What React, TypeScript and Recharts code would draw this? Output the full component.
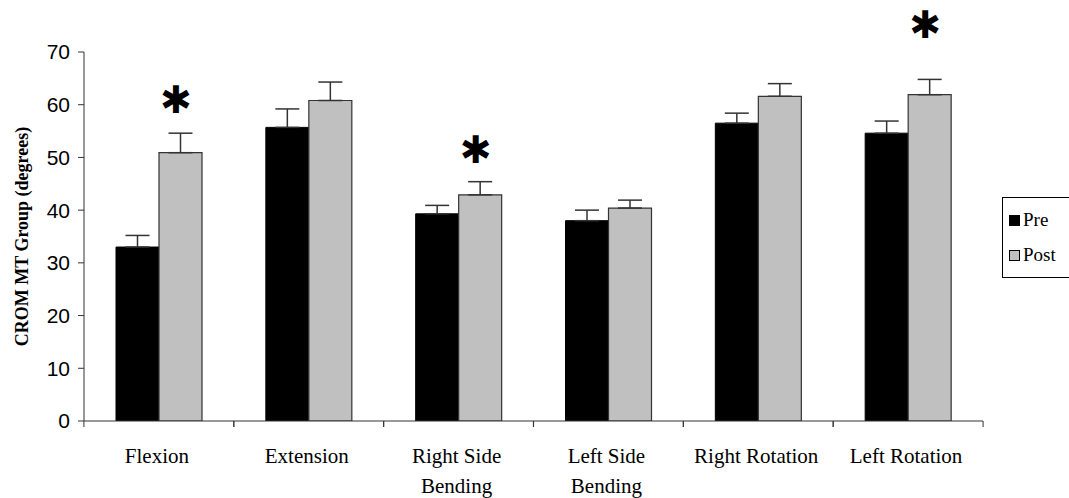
import React from 'react';
import {
  BarChart, Bar, XAxis, YAxis, ErrorBar, ReferenceDot, Label
} from 'recharts';

// 運動方向（改行で2段表示）
const categories = [
  'Flexion',
  'Extension',
  'Right Side\nBending',
  'Left Side\nBending',
  'Right Rotation',
  'Left Rotation',
];
const preValues = [33.0, 55.7, 39.3, 38.0, 56.5, 54.6];
const postValues = [50.9, 60.8, 42.9, 40.4, 61.6, 61.9];
const preErrors = [2.2, 3.5, 1.6, 2.0, 1.9, 2.3];
const postErrors = [3.7, 3.5, 2.5, 1.5, 2.4, 2.9];
// 有意差マーク (*) の高さ（度）
const starLevels: (number | null)[] = [60.9, null, 51.4, null, null, 75.1];
const yTicks = [0, 10, 20, 30, 40, 50, 60, 70];
const legendItems = [
  { label: 'Pre', fill: '#000' },
  { label: 'Post', fill: '#c0c0c0' },
];

const SERIF = '"Liberation Serif", "Times New Roman", serif';
const SANS = '"Liberation Sans", Arial, sans-serif';
const BAND = 150;

if (typeof document !== 'undefined') document.body.style.margin = '0';

const data = categories.map((name, i) => ({
  name,
  pre: preValues[i],
  post: postValues[i],
  preErr: [0, preErrors[i]],
  postErr: [0, postErrors[i]],
}));

const XTick = (props: any) => {
  const { x, y, payload } = props;
  const lines = String(payload.value).split('\n');
  return (
    <g>
      <line x1={x - BAND / 2} x2={x - BAND / 2} y1={y} y2={y + 6} stroke="#333" />
      <line x1={x + BAND / 2} x2={x + BAND / 2} y1={y} y2={y + 6} stroke="#333" />
      {lines.map((l, i) => (
        <text key={i} x={x - 2} y={y + 42 + i * 30} textAnchor="middle"
          fontFamily={SERIF} fontSize={21} fill="#000">{l}</text>
      ))}
    </g>
  );
};

const Star = (props: any) => (
  <text x={props.cx + 17} y={props.cy} textAnchor="middle" dominantBaseline="central"
    fontFamily='"DejaVu Sans", sans-serif' fontWeight="bold" fontSize={38} fill="#000">✱</text>
);

const LegendBox = () => (
  <div style={{
    position: 'absolute', left: 1002, top: 197, width: 80, height: 81, boxSizing: 'border-box',
    border: '1px solid #000', fontFamily: SERIF, fontSize: 19, color: '#000', background: '#fff',
  }}>
    {legendItems.map((e, i) => (
      <div key={e.label} style={{ position: 'absolute', left: 6, top: 11 + i * 35, display: 'flex', alignItems: 'center' }}>
        <span style={{ display: 'inline-block', width: 9, height: 9, background: e.fill, border: '1px solid #000', marginRight: 3 }} />
        <span>{e.label}</span>
      </div>
    ))}
  </div>
);

export default function App() {
  return (
    <div style={{ position: 'relative', width: 1069, height: 498, overflow: 'hidden' }}>
      <BarChart width={1069} height={498} data={data}
        margin={{ top: 52, right: 86, bottom: 47, left: 0 }}
        barGap={0} barCategoryGap={32}>
        <XAxis dataKey="name" height={30} tickLine={false} tickSize={0} tickMargin={0}
          axisLine={{ stroke: '#333' }} tick={<XTick />} interval={0} />
        <YAxis width={84} domain={[0, 70]} ticks={yTicks} allowDataOverflow
          axisLine={{ stroke: '#333' }} tickLine={{ stroke: '#333' }} tickSize={6} tickMargin={8}
          tick={{ fontFamily: SANS, fontSize: 21, fill: '#000' }}>
          <Label value="CROM MT Group (degrees)" angle={-90} position="insideLeft" offset={22}
            style={{ fontFamily: SERIF, fontWeight: 'bold', fontSize: 18, fill: '#000', textAnchor: 'middle' }} />
        </YAxis>
        <Bar dataKey="pre" name="Pre" fill="#000" stroke="#000" barSize={43} isAnimationActive={false}>
          <ErrorBar dataKey="preErr" direction="y" width={12} stroke="#333" strokeWidth={1.5} />
        </Bar>
        <Bar dataKey="post" name="Post" fill="#c0c0c0" stroke="#333" strokeWidth={1.2} barSize={43} isAnimationActive={false}>
          <ErrorBar dataKey="postErr" direction="y" width={12} stroke="#333" strokeWidth={1.5} />
        </Bar>
        {starLevels.map((s, i) => s === null ? null : (
          <ReferenceDot key={i} x={categories[i]} y={s} ifOverflow="visible" shape={<Star />} />
        ))}
      </BarChart>
      <LegendBox />
    </div>
  );
}
